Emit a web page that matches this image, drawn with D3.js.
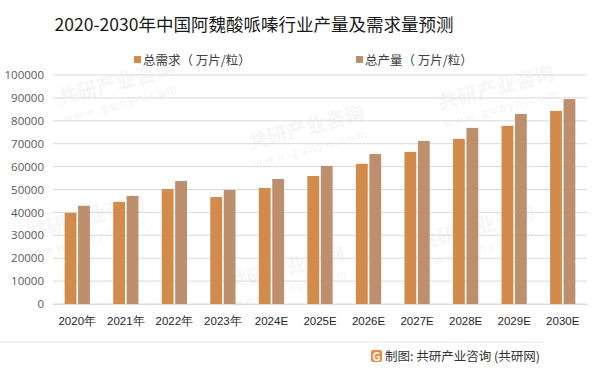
<!DOCTYPE html>
<html>
<head>
<meta charset="utf-8">
<script src="https://cdn.jsdelivr.net/npm/d3@7"></script>
<style>
  body { margin: 0; background: #fff; }
  svg { display: block; font-family: "Noto Sans CJK SC", "Noto Sans", sans-serif; }
</style>
</head>
<body>
<div class="container"></div>
<script>
// chart data
const years = ["2020年", "2021年", "2022年", "2023年", "2024E", "2025E", "2026E", "2027E", "2028E", "2029E", "2030E"];
const demand = [39800, 44600, 50200, 46700, 50700, 55900, 61200, 66400, 72100, 77800, 84300];
const supply = [42900, 47200, 53700, 49800, 54600, 60300, 65500, 71200, 76900, 83000, 89500];
const seriesNames = ["总需求（ 万片/粒）", "总产量（ 万片/粒）"];
const yTicks = [0, 10000, 20000, 30000, 40000, 50000, 60000, 70000, 80000, 90000, 100000];
const colors = ["#d38b4c", "#bd8f6c"];

const width = 601;
const height = 375;
const margin = { top: 75, bottom: 71, left: 53, right: 14 };

const svg = d3.select(".container")
  .append("svg")
  .attr("width", width)
  .attr("height", height);

// faint watermarks, kept inside the frame
const marks = [[60, 105], [250, 150], [440, 110], [30, 240], [230, 290], [420, 250]];
marks.forEach(([x, y]) => {
  const g = svg.append("g").attr("transform", `translate(${x},${y}) rotate(-15)`);
  g.append("text").text("共研产业咨询")
    .attr("font-size", 20).attr("font-weight", "bold").attr("fill", "#f6f6f6");
  g.append("text").text("w w w . g o n y n . c o m")
    .attr("y", 18).attr("font-size", 11).attr("fill", "#f4f4f4");
});

const xScale = d3.scaleBand()
  .domain(years)
  .range([margin.left, width - margin.right])
  .paddingInner(0.48)
  .paddingOuter(0.24);

const xSub = d3.scaleBand()
  .domain([0, 1])
  .range([0, xScale.bandwidth()])
  .paddingInner(0.12);

const yScale = d3.scaleLinear()
  .domain([0, 100000])
  .range([height - margin.bottom, margin.top]);

// gridlines
svg.append("g")
  .selectAll("line")
  .data(yTicks)
  .join("line")
  .attr("x1", margin.left)
  .attr("x2", width - margin.right)
  .attr("y1", d => yScale(d))
  .attr("y2", d => yScale(d))
  .attr("stroke", "#d9d9d9")
  .attr("stroke-width", 1);

// bars
const groups = svg.append("g")
  .selectAll("g")
  .data(years)
  .join("g")
  .attr("transform", d => `translate(${xScale(d)},0)`);

groups.selectAll("rect")
  .data((d, i) => [demand[i], supply[i]])
  .join("rect")
  .attr("x", (d, j) => xSub(j))
  .attr("width", xSub.bandwidth())
  .attr("y", d => yScale(d))
  .attr("height", d => yScale(0) - yScale(d))
  .attr("fill", (d, j) => colors[j]);

// y axis
svg.append("g")
  .attr("transform", `translate(${margin.left}, 0)`)
  .call(d3.axisLeft(yScale).tickValues(yTicks).tickFormat(d3.format("d")).tickSize(0).tickPadding(9))
  .call(g => g.select(".domain").remove())
  .call(g => g.selectAll("text")
    .attr("font-size", 11.5)
    .attr("fill", "#595959")
    .attr("font-family", "'Open Sans', 'Noto Sans', sans-serif"));

// x axis
svg.append("g")
  .attr("transform", `translate(0, ${height - margin.bottom})`)
  .call(d3.axisBottom(xScale).tickSize(0).tickPadding(13))
  .call(g => g.select(".domain").attr("stroke", "#d9d9d9"))
  .call(g => g.selectAll("text")
    .attr("font-size", 11.5)
    .attr("fill", "#262626"));

// title
svg.append("text")
  .attr("x", 254)
  .attr("y", 31)
  .attr("text-anchor", "middle")
  .attr("font-size", 17.5)
  .attr("fill", "#1a1a1a")
  .text("2020-2030年中国阿魏酸哌嗪行业产量及需求量预测");

// legend
const legendX = [134, 356];
seriesNames.forEach((name, i) => {
  svg.append("rect")
    .attr("x", legendX[i])
    .attr("y", 56)
    .attr("width", 7)
    .attr("height", 7)
    .attr("fill", colors[i]);
  svg.append("text")
    .attr("x", legendX[i] + 9)
    .attr("y", 64.5)
    .attr("font-size", 12.5)
    .attr("fill", "#404040")
    .text(name);
});

// footer
svg.append("line")
  .attr("x1", 0).attr("x2", 545)
  .attr("y1", 342).attr("y2", 342)
  .attr("stroke", "#e8e8e8");

const logo = svg.append("g").attr("transform", "translate(371,350)");
logo.append("rect")
  .attr("width", 11).attr("height", 12).attr("rx", 2)
  .attr("fill", "#f08a4b");
logo.append("text")
  .attr("x", 5.5).attr("y", 10.5)
  .attr("text-anchor", "middle")
  .attr("font-size", 11).attr("font-weight", "bold")
  .attr("fill", "#fff")
  .text("G");

svg.append("text")
  .attr("x", 385)
  .attr("y", 361)
  .attr("font-size", 12.5)
  .attr("fill", "#333")
  .text("制图: 共研产业咨询 (共研网)");
</script>
</body>
</html>
